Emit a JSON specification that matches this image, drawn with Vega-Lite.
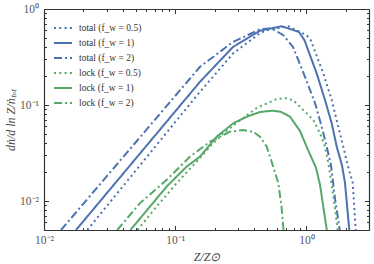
{
  "$schema": "https://vega.github.io/schema/vega-lite/v6.json",
  "width": 325,
  "height": 221,
  "autosize": "none",
  "padding": {"left": 44, "top": 9, "right": 5, "bottom": 34},
  "background": "white",
  "config": {
    "font": "Liberation Serif",
    "view": {"stroke": null},
    "axis": {
      "grid": false,
      "domainColor": "#333333",
      "domainWidth": 1.2,
      "tickColor": "#333333",
      "tickWidth": 1,
      "labelColor": "#555555",
      "labelFont": "Liberation Serif",
      "labelFontSize": 11.5,
      "titleFont": "Liberation Serif",
      "titleFontWeight": "normal",
      "titleFontStyle": "italic",
      "titleColor": "#444444",
      "titleFontSize": 12,
      "labelOverlap": false,
      "labelFlush": false
    },
    "legend": {
      "orient": "top-left",
      "offset": 9,
      "padding": 0,
      "symbolType": "stroke",
      "symbolSize": 324,
      "symbolStrokeWidth": 2,
      "labelFont": "Liberation Serif",
      "labelFontSize": 9.5,
      "labelColor": "#333333",
      "labelOffset": 6,
      "rowPadding": -1
    }
  },
  "datasets": {
    "total": [
      {"series": "total (f_w = 0.5)", "x": 0.02138, "y": 0.005},
      {"series": "total (f_w = 0.5)", "x": 0.1545, "y": 0.1375},
      {"series": "total (f_w = 0.5)", "x": 0.2759, "y": 0.344},
      {"series": "total (f_w = 0.5)", "x": 0.4429, "y": 0.56},
      {"series": "total (f_w = 0.5)", "x": 0.498, "y": 0.601},
      {"series": "total (f_w = 0.5)", "x": 0.728, "y": 0.661},
      {"series": "total (f_w = 0.5)", "x": 1.005, "y": 0.533},
      {"series": "total (f_w = 0.5)", "x": 1.08, "y": 0.473},
      {"series": "total (f_w = 0.5)", "x": 1.345, "y": 0.2134},
      {"series": "total (f_w = 0.5)", "x": 1.559, "y": 0.1127},
      {"series": "total (f_w = 0.5)", "x": 1.75, "y": 0.0595},
      {"series": "total (f_w = 0.5)", "x": 1.91, "y": 0.0369},
      {"series": "total (f_w = 0.5)", "x": 2.064, "y": 0.02365},
      {"series": "total (f_w = 0.5)", "x": 2.254, "y": 0.0155},
      {"series": "total (f_w = 0.5)", "x": 2.376, "y": 0.005},

      {"series": "total (f_w = 1)", "x": 0.01754, "y": 0.005},
      {"series": "total (f_w = 1)", "x": 0.1545, "y": 0.1746},
      {"series": "total (f_w = 1)", "x": 0.2759, "y": 0.403},
      {"series": "total (f_w = 1)", "x": 0.4429, "y": 0.595},
      {"series": "total (f_w = 1)", "x": 0.648, "y": 0.661},
      {"series": "total (f_w = 1)", "x": 0.878, "y": 0.577},
      {"series": "total (f_w = 1)", "x": 0.967, "y": 0.473},
      {"series": "total (f_w = 1)", "x": 1.198, "y": 0.2134},
      {"series": "total (f_w = 1)", "x": 1.386, "y": 0.1127},
      {"series": "total (f_w = 1)", "x": 1.559, "y": 0.0646},
      {"series": "total (f_w = 1)", "x": 1.702, "y": 0.0369},
      {"series": "total (f_w = 1)", "x": 1.867, "y": 0.02365},
      {"series": "total (f_w = 1)", "x": 1.968, "y": 0.0155},
      {"series": "total (f_w = 1)", "x": 2.123, "y": 0.005},

      {"series": "total (f_w = 2)", "x": 0.01348, "y": 0.005},
      {"series": "total (f_w = 2)", "x": 0.1545, "y": 0.25},
      {"series": "total (f_w = 2)", "x": 0.2759, "y": 0.454},
      {"series": "total (f_w = 2)", "x": 0.4429, "y": 0.615},
      {"series": "total (f_w = 2)", "x": 0.544, "y": 0.63},
      {"series": "total (f_w = 2)", "x": 0.667, "y": 0.533},
      {"series": "total (f_w = 2)", "x": 0.79, "y": 0.403},
      {"series": "total (f_w = 2)", "x": 0.976, "y": 0.1967},
      {"series": "total (f_w = 2)", "x": 1.163, "y": 0.105},
      {"series": "total (f_w = 2)", "x": 1.308, "y": 0.0595},
      {"series": "total (f_w = 2)", "x": 1.428, "y": 0.0369},
      {"series": "total (f_w = 2)", "x": 1.54, "y": 0.02365},
      {"series": "total (f_w = 2)", "x": 1.652, "y": 0.0106},
      {"series": "total (f_w = 2)", "x": 1.795, "y": 0.005}
    ],
    "lock": [
      {"series": "lock (f_w = 0.5)", "x": 0.0516, "y": 0.005},
      {"series": "lock (f_w = 0.5)", "x": 0.0723, "y": 0.00879},
      {"series": "lock (f_w = 0.5)", "x": 0.1026, "y": 0.01538},
      {"series": "lock (f_w = 0.5)", "x": 0.1459, "y": 0.02577},
      {"series": "lock (f_w = 0.5)", "x": 0.1842, "y": 0.0369},
      {"series": "lock (f_w = 0.5)", "x": 0.2326, "y": 0.0508},
      {"series": "lock (f_w = 0.5)", "x": 0.3119, "y": 0.069},
      {"series": "lock (f_w = 0.5)", "x": 0.418, "y": 0.0931},
      {"series": "lock (f_w = 0.5)", "x": 0.528, "y": 0.1075},
      {"series": "lock (f_w = 0.5)", "x": 0.594, "y": 0.116},
      {"series": "lock (f_w = 0.5)", "x": 0.708, "y": 0.118},
      {"series": "lock (f_w = 0.5)", "x": 0.8, "y": 0.111},
      {"series": "lock (f_w = 0.5)", "x": 0.894, "y": 0.096},
      {"series": "lock (f_w = 0.5)", "x": 1.005, "y": 0.082},
      {"series": "lock (f_w = 0.5)", "x": 1.129, "y": 0.0699},
      {"series": "lock (f_w = 0.5)", "x": 1.27, "y": 0.0508},
      {"series": "lock (f_w = 0.5)", "x": 1.386, "y": 0.0369},
      {"series": "lock (f_w = 0.5)", "x": 1.479, "y": 0.02365},
      {"series": "lock (f_w = 0.5)", "x": 1.615, "y": 0.01064},
      {"series": "lock (f_w = 0.5)", "x": 1.732, "y": 0.005},

      {"series": "lock (f_w = 1)", "x": 0.0456, "y": 0.005},
      {"series": "lock (f_w = 1)", "x": 0.0643, "y": 0.00879},
      {"series": "lock (f_w = 1)", "x": 0.0861, "y": 0.01418},
      {"series": "lock (f_w = 1)", "x": 0.1224, "y": 0.02287},
      {"series": "lock (f_w = 1)", "x": 0.1545, "y": 0.02904},
      {"series": "lock (f_w = 1)", "x": 0.2072, "y": 0.0469},
      {"series": "lock (f_w = 1)", "x": 0.2773, "y": 0.0646},
      {"series": "lock (f_w = 1)", "x": 0.3508, "y": 0.0756},
      {"series": "lock (f_w = 1)", "x": 0.4429, "y": 0.0846},
      {"series": "lock (f_w = 1)", "x": 0.547, "y": 0.0873},
      {"series": "lock (f_w = 1)", "x": 0.64, "y": 0.085},
      {"series": "lock (f_w = 1)", "x": 0.75, "y": 0.0756},
      {"series": "lock (f_w = 1)", "x": 0.894, "y": 0.0537},
      {"series": "lock (f_w = 1)", "x": 1.0285, "y": 0.0341},
      {"series": "lock (f_w = 1)", "x": 1.184, "y": 0.0222},
      {"series": "lock (f_w = 1)", "x": 1.27, "y": 0.01477},
      {"series": "lock (f_w = 1)", "x": 1.431, "y": 0.005},

      {"series": "lock (f_w = 2)", "x": 0.0362, "y": 0.005},
      {"series": "lock (f_w = 2)", "x": 0.0539, "y": 0.00953},
      {"series": "lock (f_w = 2)", "x": 0.0861, "y": 0.01664},
      {"series": "lock (f_w = 2)", "x": 0.1297, "y": 0.02904},
      {"series": "lock (f_w = 2)", "x": 0.1842, "y": 0.0416},
      {"series": "lock (f_w = 2)", "x": 0.2617, "y": 0.0528},
      {"series": "lock (f_w = 2)", "x": 0.3304, "y": 0.055},
      {"series": "lock (f_w = 2)", "x": 0.396, "y": 0.0524},
      {"series": "lock (f_w = 2)", "x": 0.4429, "y": 0.0469},
      {"series": "lock (f_w = 2)", "x": 0.498, "y": 0.037},
      {"series": "lock (f_w = 2)", "x": 0.528, "y": 0.029},
      {"series": "lock (f_w = 2)", "x": 0.611, "y": 0.01538},
      {"series": "lock (f_w = 2)", "x": 0.646, "y": 0.00879},
      {"series": "lock (f_w = 2)", "x": 0.669, "y": 0.005}
    ]
  },
  "layer": [
    {
      "data": {"name": "total"},
      "mark": {"type": "line", "strokeWidth": 2, "clip": true},
      "encoding": {
        "x": {
          "field": "x", "type": "quantitative",
          "scale": {"type": "log", "domain": [0.01, 3], "nice": false},
          "axis": {
            "orient": "bottom",
            "values": [0.01,0.02,0.03,0.04,0.05,0.06,0.07,0.08,0.09,0.1,0.2,0.3,0.4,0.5,0.6,0.7,0.8,0.9,1,2,3],
            "labelExpr": "datum.value === 0.01 ? '10⁻²' : datum.value === 0.1 ? '10⁻¹' : datum.value === 1 ? '10⁰' : ''",
            "tickSize": {"condition": {"test": "datum.value === 0.01 || datum.value === 0.1 || datum.value === 1", "value": -4.5}, "value": -2.5},
            "labelPadding": 9,
            "title": "Z/Z⊙",
            "titlePadding": 3
          }
        },
        "y": {
          "field": "y", "type": "quantitative",
          "scale": {"type": "log", "domain": [0.005, 1], "nice": false},
          "axis": {
            "orient": "left",
            "values": [0.005,0.006,0.007,0.008,0.009,0.01,0.02,0.03,0.04,0.05,0.06,0.07,0.08,0.09,0.1,0.2,0.3,0.4,0.5,0.6,0.7,0.8,0.9,1],
            "labelExpr": "datum.value === 0.01 ? '10⁻²' : datum.value === 0.1 ? '10⁻¹' : datum.value === 1 ? '10⁰' : ''",
            "tickSize": {"condition": {"test": "datum.value === 0.01 || datum.value === 0.1 || datum.value === 1", "value": -4.5}, "value": -2.5},
            "labelPadding": 10,
            "title": "dṅ/d ln Z/ṅₜₒₜ",
            "titlePadding": 2
          }
        },
        "color": {
          "field": "series", "type": "nominal",
          "scale": {
            "domain": ["total (f_w = 0.5)", "total (f_w = 1)", "total (f_w = 2)", "lock (f_w = 0.5)", "lock (f_w = 1)", "lock (f_w = 2)"],
            "range": ["#4C72B0", "#4C72B0", "#4C72B0", "#55A868", "#55A868", "#55A868"]
          },
          "legend": {"title": null}
        },
        "strokeDash": {
          "field": "series", "type": "nominal",
          "scale": {
            "domain": ["total (f_w = 0.5)", "total (f_w = 1)", "total (f_w = 2)", "lock (f_w = 0.5)", "lock (f_w = 1)", "lock (f_w = 2)"],
            "range": [[2, 3.3], [1, 0], [8, 3, 2, 3], [2, 3.3], [1, 0], [8, 3, 2, 3]]
          },
          "legend": {"title": null}
        }
      }
    },
    {
      "data": {"name": "lock"},
      "mark": {"type": "line", "strokeWidth": 2, "clip": true},
      "encoding": {
        "x": {
          "field": "x", "type": "quantitative",
          "axis": {
            "orient": "top",
            "values": [0.01,0.02,0.03,0.04,0.05,0.06,0.07,0.08,0.09,0.1,0.2,0.3,0.4,0.5,0.6,0.7,0.8,0.9,1,2,3],
            "labels": false,
            "tickSize": {"condition": {"test": "datum.value === 0.01 || datum.value === 0.1 || datum.value === 1", "value": -4.5}, "value": -2.5},
            "title": null
          }
        },
        "y": {
          "field": "y", "type": "quantitative",
          "axis": {
            "orient": "right",
            "values": [0.005,0.006,0.007,0.008,0.009,0.01,0.02,0.03,0.04,0.05,0.06,0.07,0.08,0.09,0.1,0.2,0.3,0.4,0.5,0.6,0.7,0.8,0.9,1],
            "labels": false,
            "tickSize": {"condition": {"test": "datum.value === 0.01 || datum.value === 0.1 || datum.value === 1", "value": -4.5}, "value": -2.5},
            "title": null
          }
        },
        "color": {"field": "series", "type": "nominal", "legend": {"title": null}},
        "strokeDash": {"field": "series", "type": "nominal", "legend": {"title": null}}
      }
    }
  ],
  "resolve": {"axis": {"x": "independent", "y": "independent"}}
}
